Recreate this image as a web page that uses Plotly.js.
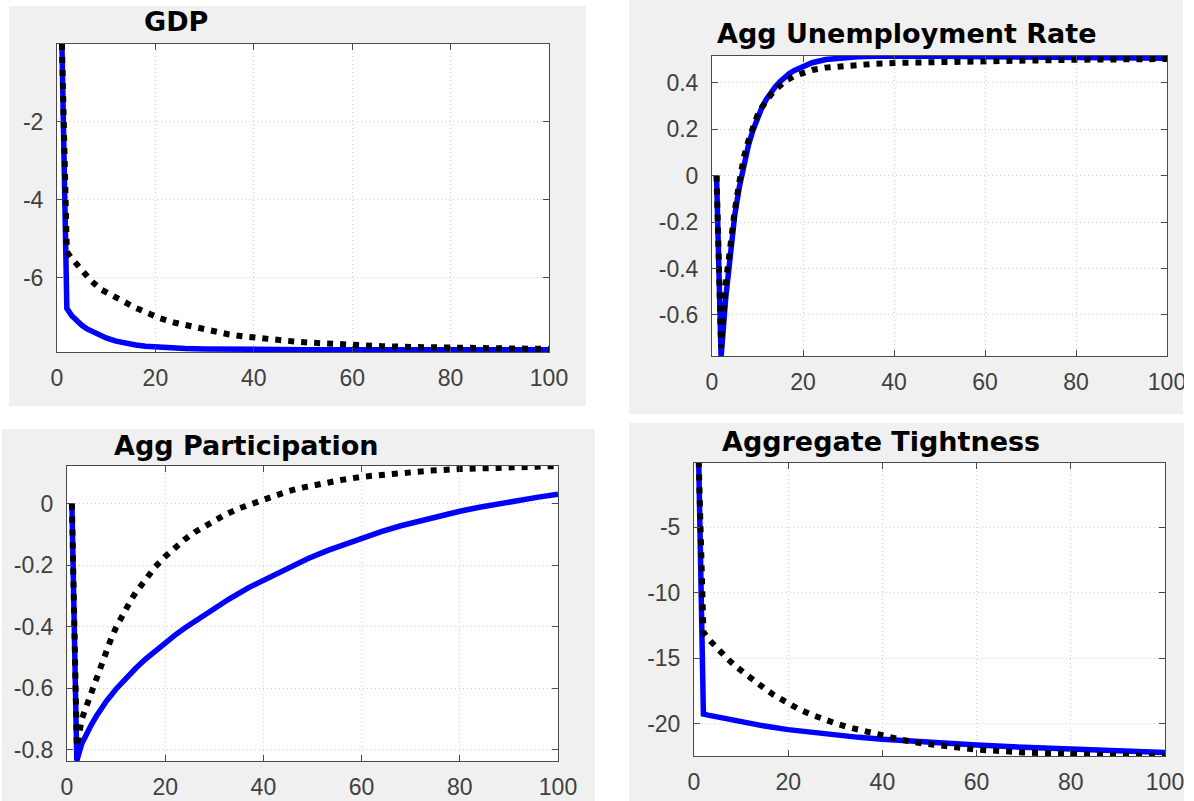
<!DOCTYPE html>
<html>
<head>
<meta charset="utf-8">
<script src="https://cdn.plot.ly/plotly-3.0.1.min.js"></script>
<style>
  html, body { margin: 0; padding: 0; background: #ffffff; }
  #chart { width: 1194px; height: 801px; }
</style>
</head>
<body>
<div id="chart"></div>
<script>
// ---------------- DATA ----------------
const titles = ["GDP", "Agg Unemployment Rate", "Agg Participation", "Aggregate Tightness"];

const xTickVals = [0, 20, 40, 60, 80, 100];
const xTickText = ["0", "20", "40", "60", "80", "100"];

// GDP
const gdpBlueT  = [1, 2, 3, 4, 5, 6, 7, 8, 9, 10, 12, 14, 16, 18, 20, 23, 26, 30, 35, 40, 50, 60, 80, 100];
const gdpBlue   = [0, -6.78, -6.97, -7.1, -7.21, -7.3, -7.37, -7.44, -7.5, -7.54, -7.62, -7.68, -7.72, -7.75, -7.77, -7.79, -7.81, -7.82, -7.83, -7.835, -7.84, -7.84, -7.84, -7.84];
const gdpBlackT = [1, 2, 3, 4, 5, 7, 9, 12, 14, 16, 19, 21, 24, 27, 30, 32, 35, 38, 42, 45, 49, 53, 57, 61, 66, 72, 78, 84, 92, 100];
const gdpBlack  = [0, -5.33, -5.5, -5.66, -5.8, -6.08, -6.3, -6.5, -6.64, -6.77, -6.93, -7.04, -7.15, -7.24, -7.33, -7.38, -7.45, -7.5, -7.56, -7.6, -7.64, -7.67, -7.7, -7.72, -7.75, -7.77, -7.79, -7.8, -7.81, -7.82];
const gdpTickVals = [-6, -4, -2];
const gdpTickText = ["-6", "-4", "-2"];

// Agg Unemployment Rate
const unBlueT  = [1, 2, 3, 4, 5, 6, 7, 8, 9, 10, 11, 12, 13, 14, 15, 16, 17, 18, 20, 22, 25, 28, 32, 36, 40, 50, 60, 80, 100];
const unBlue   = [0, -0.78, -0.53, -0.33, -0.17, -0.05, 0.05, 0.13, 0.195, 0.25, 0.295, 0.33, 0.36, 0.385, 0.405, 0.425, 0.44, 0.452, 0.472, 0.486, 0.5, 0.507, 0.512, 0.514, 0.515, 0.514, 0.512, 0.508, 0.505];
const unBlackT = [1, 2, 3, 4, 5, 6, 7, 8, 9, 10, 11, 12, 13, 14, 16, 18, 20, 22, 25, 28, 32, 36, 40, 50, 60, 80, 100];
const unBlack  = [0, -0.74, -0.47, -0.3, -0.15, -0.03, 0.08, 0.15, 0.21, 0.26, 0.295, 0.325, 0.35, 0.37, 0.405, 0.428, 0.445, 0.455, 0.465, 0.471, 0.477, 0.482, 0.485, 0.49, 0.495, 0.499, 0.502];
const unTickVals = [-0.6, -0.4, -0.2, 0, 0.2, 0.4];
const unTickText = ["-0.6", "-0.4", "-0.2", "0", "0.2", "0.4"];

// Agg Participation
const paBlueT  = [1, 2, 3, 4, 5, 6, 7, 8, 10, 12, 14, 16, 18, 20, 22, 24, 27, 30, 33, 37, 41, 45, 49, 53, 57, 60, 64, 68, 72, 76, 80, 84, 88, 92, 96, 100];
const paBlue   = [0, -0.835, -0.78, -0.746, -0.717, -0.69, -0.665, -0.642, -0.602, -0.567, -0.535, -0.505, -0.478, -0.452, -0.427, -0.404, -0.371, -0.34, -0.31, -0.273, -0.24, -0.208, -0.179, -0.153, -0.129, -0.112, -0.091, -0.072, -0.055, -0.04, -0.025, -0.012, 0.0, 0.011, 0.021, 0.03];
const paBlackT = [1, 2, 3, 4, 5, 6, 7, 8, 9, 10, 11, 12, 13, 14, 16, 18, 20, 22, 24, 26, 28, 30, 32, 35, 39, 42, 45, 48, 52, 56, 60, 64, 68, 74, 80, 90, 100];
const paBlack  = [0, -0.79, -0.7, -0.655, -0.61, -0.565, -0.52, -0.476, -0.438, -0.402, -0.37, -0.341, -0.314, -0.289, -0.243, -0.205, -0.172, -0.142, -0.116, -0.093, -0.073, -0.055, -0.038, -0.016, 0.008, 0.025, 0.04, 0.052, 0.066, 0.077, 0.087, 0.094, 0.1, 0.107, 0.112, 0.118, 0.122];
const paTickVals = [-0.8, -0.6, -0.4, -0.2, 0];
const paTickText = ["-0.8", "-0.6", "-0.4", "-0.2", "0"];

// Aggregate Tightness
const tiBlueT  = [1, 2, 3, 5, 10, 15, 20, 25, 30, 35, 40, 45, 50, 60, 70, 80, 90, 100];
const tiBlue   = [0, -19.25, -19.33, -19.47, -19.85, -20.16, -20.43, -20.66, -20.85, -21.02, -21.16, -21.29, -21.4, -21.6, -21.78, -21.92, -22.05, -22.17];
const tiBlackT = [1, 2, 3, 5, 7, 9, 11, 13, 15, 17, 20, 22, 25, 27, 30, 33, 36, 40, 44, 48, 53, 60, 70, 80, 90, 100];
const tiBlack  = [0, -13.0, -13.5, -14.3, -15.0, -15.65, -16.25, -16.8, -17.3, -17.8, -18.42, -18.82, -19.3, -19.6, -19.95, -20.27, -20.55, -20.9, -21.2, -21.45, -21.7, -21.95, -22.17, -22.32, -22.4, -22.45];
const tiTickVals = [-20, -15, -10, -5];
const tiTickText = ["-20", "-15", "-10", "-5"];

// ---------------- LAYOUT HELPERS ----------------
const W = 1194, H = 801;
const px = x => x / W;
const py = y => 1 - y / H;

const BLUE = '#0000ff';
const blueLine = {color: BLUE, width: 5.5};
const blackLine = {color: '#000000', width: 6, dash: '6px,7px'};

function mkTraces(xa, ya, bt, bv, kt, kv) {
  return [
    {x: bt, y: bv, type: 'scatter', mode: 'lines', line: blueLine, xaxis: xa, yaxis: ya, hoverinfo: 'skip'},
    {x: kt, y: kv, type: 'scatter', mode: 'lines', line: blackLine, xaxis: xa, yaxis: ya, hoverinfo: 'skip'}
  ];
}

const traces = [].concat(
  mkTraces('x', 'y', gdpBlueT, gdpBlue, gdpBlackT, gdpBlack),
  mkTraces('x2', 'y2', unBlueT, unBlue, unBlackT, unBlack),
  mkTraces('x3', 'y3', paBlueT, paBlue, paBlackT, paBlack),
  mkTraces('x4', 'y4', tiBlueT, tiBlue, tiBlackT, tiBlack)
);

const tickFont = {family: 'Liberation Sans, Arial, sans-serif', size: 23, color: '#404040'};
const axisCommon = {
  showline: true, linecolor: '#4a4a4a', linewidth: 1, mirror: 'ticks',
  ticks: 'inside', ticklen: 6, tickwidth: 1, tickcolor: '#4a4a4a',
  showgrid: true, gridcolor: '#cfcfcf', griddash: '1px,3px', gridwidth: 1,
  zeroline: false, tickfont: tickFont, fixedrange: true
};

function xAxis(domain, anchor) {
  return Object.assign({}, axisCommon, {
    domain: domain, anchor: anchor, range: [0, 100],
    tickmode: 'array', tickvals: xTickVals, ticktext: xTickText,
    ticklabelstandoff: 5
  });
}
function yAxis(domain, anchor, range, tv, tt) {
  return Object.assign({}, axisCommon, {
    domain: domain, anchor: anchor, range: range,
    tickmode: 'array', tickvals: tv, ticktext: tt,
    ticklabelstandoff: 8
  });
}

// plot areas (pixels)
const P1 = {l: 57, r: 549, t: 44, b: 352};
const P2 = {l: 712, r: 1167, t: 56, b: 356};
const P3 = {l: 67, r: 558, t: 466, b: 761};
const P4 = {l: 694, r: 1165, t: 463, b: 756};

const titleFont = {family: 'DejaVu Sans, sans-serif', size: 27, color: '#000000', weight: 'bold'};
function titleAnn(text, x, yMid) {
  return {text: text, xref: 'paper', yref: 'paper', x: px(x), y: py(yMid),
          xanchor: 'left', yanchor: 'middle', showarrow: false, font: titleFont};
}

function rect(x0, y0, x1, y1, color, layer) {
  return {type: 'rect', xref: 'paper', yref: 'paper', x0: px(x0), x1: px(x1), y0: py(y1), y1: py(y0),
          fillcolor: color, line: {width: 0}, layer: layer};
}
function plotRect(P) { return rect(P.l, P.t, P.r, P.b, '#ffffff', 'below'); }

const layout = {
  width: W, height: H,
  margin: {l: 0, r: 0, t: 0, b: 0, pad: 0},
  paper_bgcolor: '#ffffff', plot_bgcolor: '#ffffff',
  showlegend: false,
  xaxis:  xAxis([px(P1.l), px(P1.r)], 'y'),
  yaxis:  yAxis([py(P1.b), py(P1.t)], 'x', [-7.9, 0], gdpTickVals, gdpTickText),
  xaxis2: xAxis([px(P2.l), px(P2.r)], 'y2'),
  yaxis2: yAxis([py(P2.b), py(P2.t)], 'x2', [-0.777, 0.515], unTickVals, unTickText),
  xaxis3: xAxis([px(P3.l), px(P3.r)], 'y3'),
  yaxis3: yAxis([py(P3.b), py(P3.t)], 'x3', [-0.836, 0.122], paTickVals, paTickText),
  xaxis4: xAxis([px(P4.l), px(P4.r)], 'y4'),
  yaxis4: yAxis([py(P4.b), py(P4.t)], 'x4', [-22.44, -0.12], tiTickVals, tiTickText),
  shapes: [
    rect(9, 6, 586, 406, '#f0f0f0', 'below'),
    rect(629, 0, 1183, 414, '#f0f0f0', 'below'),
    rect(2, 429, 595, 801, '#f0f0f0', 'below'),
    rect(629, 423, 1185, 801, '#f0f0f0', 'below'),
    plotRect(P1), plotRect(P2), plotRect(P3), plotRect(P4),
    rect(1184, 0, 1194, 801, '#ffffff', 'above')
  ],
  annotations: [
    titleAnn(titles[0], 142, 22),
    titleAnn(titles[1], 715, 34),
    titleAnn(titles[2], 112, 445),
    titleAnn(titles[3], 720, 441)
  ]
};

Plotly.newPlot('chart', traces, layout, {displayModeBar: false, staticPlot: true});
</script>
</body>
</html>
